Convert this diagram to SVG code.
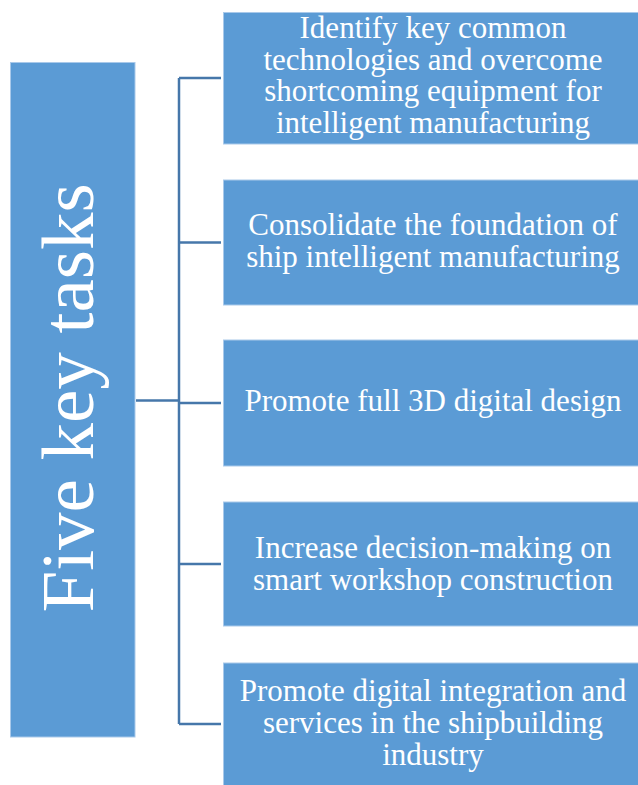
<svg xmlns="http://www.w3.org/2000/svg" width="638" height="785" viewBox="0 0 638 785">
  <style>
    .box { fill: #5b9bd5; stroke: #a9c9ea; stroke-width: 1; }
    .lbl { font-family: "Liberation Serif", "Times New Roman", serif; font-size: 31px; fill: #ffffff; text-anchor: middle; }
    .title { font-family: "Liberation Serif", "Times New Roman", serif; font-size: 75px; fill: #ffffff; text-anchor: middle; }
    .wire { fill: none; stroke: #4677aa; stroke-width: 2.5; }
  </style>
  <rect width="638" height="785" fill="#ffffff"/>

  <!-- tree connectors -->
  <g id="connectors">
    <path class="wire" d="M136 400.5 H179"/>
    <path class="wire" d="M179 78 V724"/>
    <path class="wire" d="M179 78 H221"/>
    <path class="wire" d="M179 242.5 H221"/>
    <path class="wire" d="M179 403 H221"/>
    <path class="wire" d="M179 564 H221"/>
    <path class="wire" d="M179 724 H221"/>
  </g>

  <!-- root -->
  <g id="root">
    <rect class="box" x="10.5" y="62.5" width="124.5" height="674.5"/>
    <text class="title" transform="translate(93,398) rotate(-90)">Five key tasks</text>
  </g>

  <!-- task 1 -->
  <g id="task1">
    <rect class="box" x="223.5" y="12.5" width="430" height="131.5"/>
    <text class="lbl" x="433" y="38">Identify key common</text>
    <text class="lbl" x="433" y="69.5">technologies and overcome</text>
    <text class="lbl" x="433" y="101">shortcoming equipment for</text>
    <text class="lbl" x="433" y="132.5">intelligent manufacturing</text>
  </g>

  <!-- task 2 -->
  <g id="task2">
    <rect class="box" x="223.5" y="180" width="430" height="125"/>
    <text class="lbl" x="433" y="235">Consolidate the foundation of</text>
    <text class="lbl" x="433" y="267">ship intelligent manufacturing</text>
  </g>

  <!-- task 3 -->
  <g id="task3">
    <rect class="box" x="223.5" y="340" width="430" height="126"/>
    <text class="lbl" x="433" y="411">Promote full 3D digital design</text>
  </g>

  <!-- task 4 -->
  <g id="task4">
    <rect class="box" x="223.5" y="502" width="430" height="124"/>
    <text class="lbl" x="433" y="558">Increase decision-making on</text>
    <text class="lbl" x="433" y="589.5">smart workshop construction</text>
  </g>

  <!-- task 5 -->
  <g id="task5">
    <rect class="box" x="223.5" y="663" width="430" height="130"/>
    <text class="lbl" x="433" y="700.5">Promote digital integration and</text>
    <text class="lbl" x="433" y="732.5">services in the shipbuilding</text>
    <text class="lbl" x="433" y="764.5">industry</text>
  </g>
</svg>
